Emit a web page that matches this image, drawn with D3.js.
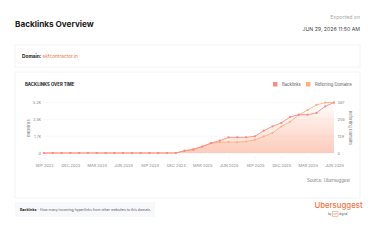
<!DOCTYPE html>
<html>
<head>
<meta charset="utf-8">
<script src="https://cdn.jsdelivr.net/npm/d3@7"></script>
<style>
  html, body { margin: 0; padding: 0; background: #fff; }
  svg { display: block; font-family: Inter, "Noto Sans", "DejaVu Sans", sans-serif; }
</style>
</head>
<body>
<div id="chart"></div>
<script>
// Monthly categories (Sep 2023 .. Jun 2026)
const months = [
  "2023-09","2023-10","2023-11","2023-12","2024-01","2024-02","2024-03","2024-04",
  "2024-05","2024-06","2024-07","2024-08","2024-09","2024-10","2024-11","2024-12",
  "2025-01","2025-02","2025-03","2025-04","2025-05","2025-06","2025-07","2025-08",
  "2025-09","2025-10","2025-11","2025-12","2026-01","2026-02","2026-03","2026-04",
  "2026-05","2026-06"
];
const backlinks = [
  0, 0, 0, 0, 0, 0, 0, 0, 0, 0, 0, 0, 0, 0, 0, 0,
  230, 340, 650, 1030, 1270, 1620, 1620, 1620, 1720, 2300, 2750, 3100,
  3710, 3950, 3950, 4130, 4820, 5200
];
const referringDomains = [
  0, 0, 0, 0, 0, 0, 0, 0, 0, 0, 0, 0, 0, 0, 0, 0,
  18, 30, 50, 74, 82, 84, 84, 88, 102, 127, 154, 203,
  240, 292, 330, 369, 387, 387
];
const xTickMonths = ["2023-09","2023-12","2024-03","2024-06","2024-09","2024-12",
  "2025-03","2025-06","2025-09","2025-12","2026-03","2026-06"];
const xTickLabels = ["SEP 2023","DEC 2023","MAR 2024","JUN 2024","SEP 2024","DEC 2024",
  "MAR 2025","JUN 2025","SEP 2025","DEC 2025","MAR 2026","JUN 2026"];
const leftTicks = [0, 1733, 3467, 5200];
const leftTickLabels = ["0", "1.7k", "3.5k", "5.2k"];
const rightTicks = [0, 129, 258, 387];
const rightTickLabels = ["0", "129", "258", "387"];

const width = 375, height = 242;
const cBack = "#fa8a86", cRef = "#ffb07e";

const svg = d3.select("#chart").append("svg")
  .attr("width", width).attr("height", height)
  .attr("viewBox", [0, 0, width, height]);

// Header
svg.append("text").attr("x", 15).attr("y", 26.5)
  .attr("font-size", 8.2).attr("font-weight", 700).attr("fill", "#1c1c1c")
  .text("Backlinks Overview");
svg.append("text").attr("x", 360).attr("y", 19).attr("text-anchor", "end")
  .attr("font-size", 5.2).attr("fill", "#a8a8a8").text("Exported on");
svg.append("text").attr("x", 360).attr("y", 31).attr("text-anchor", "end")
  .attr("font-size", 5.2).attr("fill", "#444").text("JUN 29, 2026 11:50 AM");

// Cards
svg.append("rect").attr("x", 15).attr("y", 45).attr("width", 345).attr("height", 22)
  .attr("fill", "#fff").attr("stroke", "#f1f1f1").attr("stroke-width", 0.8);
svg.append("rect").attr("x", 15).attr("y", 72).attr("width", 345).attr("height", 126)
  .attr("fill", "#fff").attr("stroke", "#f1f1f1").attr("stroke-width", 0.8);

const dom = svg.append("text").attr("x", 22).attr("y", 57.8).attr("font-size", 4.8);
dom.append("tspan").attr("font-weight", 700).attr("fill", "#222").text("Domain: ");
dom.append("tspan").attr("fill", "#f4733f").text("skfcontractor.in");

svg.append("text").attr("x", 25).attr("y", 85.5)
  .attr("font-size", 4.3).attr("font-weight", 700).attr("fill", "#222")
  .text("BACKLINKS OVER TIME");

// Legend
const legend = [["Backlinks", cBack, 273], ["Referring Domains", cRef, 306]];
legend.forEach(([label, color, lx]) => {
  svg.append("rect").attr("x", lx).attr("y", 82).attr("width", 4.5).attr("height", 4.5)
    .attr("fill", color);
  svg.append("text").attr("x", lx + 9).attr("y", 85.8)
    .attr("font-size", 4.2).attr("fill", "#555").text(label);
});

// Scales
const x = d3.scalePoint().domain(months).range([44, 334]);
const yL = d3.scaleLinear().domain([0, 5200]).range([153, 102.6]);
const yR = d3.scaleLinear().domain([0, 387]).range([153, 102.6]);

// Gridlines
svg.append("g").selectAll("line").data(leftTicks).join("line")
  .attr("x1", 43).attr("x2", 335)
  .attr("y1", d => yL(d)).attr("y2", d => yL(d))
  .attr("stroke", "#f3f3f3").attr("stroke-width", 0.6);

// Left axis
const leftAxis = svg.append("g").attr("transform", "translate(42,0)")
  .call(d3.axisLeft(yL).tickValues(leftTicks).tickSize(0).tickPadding(1)
    .tickFormat((d, i) => leftTickLabels[i]));
// Right axis
const rightAxis = svg.append("g").attr("transform", "translate(336,0)")
  .call(d3.axisRight(yR).tickValues(rightTicks).tickSize(0).tickPadding(1.5)
    .tickFormat((d, i) => rightTickLabels[i]));
// Bottom axis
const bottomAxis = svg.append("g").attr("transform", "translate(0,160)")
  .call(d3.axisBottom(x).tickValues(xTickMonths).tickSize(0).tickPadding(4)
    .tickFormat((d, i) => xTickLabels[i]));
[leftAxis, rightAxis, bottomAxis].forEach(a => {
  a.select(".domain").remove();
  a.selectAll("text").attr("font-size", 3.9).attr("fill", "#888")
    .attr("font-family", "Inter, 'Noto Sans', sans-serif");
});
bottomAxis.selectAll(".tick").append("line")
  .attr("y1", -3).attr("y2", -1.5).attr("stroke", "#e6e6e6").attr("stroke-width", 0.5);

svg.append("text").attr("transform", "translate(29.5,128) rotate(-90)")
  .attr("text-anchor", "middle").attr("font-size", 3.9).attr("fill", "#777")
  .text("Backlinks");
svg.append("text").attr("transform", "translate(349,128) rotate(90)")
  .attr("text-anchor", "middle").attr("font-size", 3.9).attr("fill", "#777")
  .text("Referring Domains");

// Gradients
const defs = svg.append("defs");
[["gBack", "#f7805f"], ["gRef", "#ffa07a"]].forEach(([id, c]) => {
  const g = defs.append("linearGradient").attr("id", id)
    .attr("gradientUnits", "userSpaceOnUse")
    .attr("x1", 0).attr("y1", 153).attr("x2", 0).attr("y2", 102);
  g.append("stop").attr("offset", 0).attr("stop-color", c).attr("stop-opacity", 0.26);
  g.append("stop").attr("offset", 1).attr("stop-color", c).attr("stop-opacity", 0.0);
});

const series = [
  { values: referringDomains, y: yR, color: cRef, grad: "gRef" },
  { values: backlinks, y: yL, color: cBack, grad: "gBack" }
];

series.forEach(s => {
  const area = d3.area().x((d, i) => x(months[i])).y0(153).y1(d => s.y(d));
  svg.append("path").datum(s.values).attr("d", area).attr("fill", `url(#${s.grad})`);
});
series.forEach(s => {
  const line = d3.line().x((d, i) => x(months[i])).y(d => s.y(d));
  svg.append("path").datum(s.values).attr("d", line)
    .attr("fill", "none").attr("stroke", s.color).attr("stroke-width", 0.9);
  svg.append("g").selectAll("circle").data(s.values).join("circle")
    .attr("cx", (d, i) => x(months[i])).attr("cy", d => s.y(d)).attr("r", 1.1)
    .attr("fill", s.color);
});

svg.append("text").attr("x", 350).attr("y", 181.5).attr("text-anchor", "end")
  .attr("font-size", 4.3).attr("fill", "#777").text("Source: Ubersuggest");

// Footer note
svg.append("rect").attr("x", 15).attr("y", 202).attr("width", 140).attr("height", 15)
  .attr("fill", "#f7f8fa");
const note = svg.append("text").attr("x", 20).attr("y", 211).attr("font-size", 3.5);
note.append("tspan").attr("font-weight", 700).attr("fill", "#222").text("Backlinks");
note.append("tspan").attr("fill", "#555").text(" - How many incoming hyperlinks from other websites to this domain.");

// Logo
svg.append("text").attr("x", 338.5).attr("y", 208).attr("text-anchor", "middle")
  .attr("font-size", 7.8).attr("font-weight", 500).attr("fill", "#f4733f").text("Ubersuggest");
svg.append("text").attr("x", 328).attr("y", 215.3).attr("font-size", 3).attr("fill", "#555").text("by");
svg.append("rect").attr("x", 332.5).attr("y", 211.5).attr("width", 5.5).attr("height", 5)
  .attr("fill", "none").attr("stroke", "#f4733f").attr("stroke-width", 0.4);
svg.append("text").attr("x", 335.25).attr("y", 215).attr("text-anchor", "middle")
  .attr("font-size", 2.4).attr("fill", "#f4733f").text("NP");
svg.append("text").attr("x", 339).attr("y", 215.3).attr("font-size", 3).attr("fill", "#555").text("digital");
</script>
</body>
</html>
